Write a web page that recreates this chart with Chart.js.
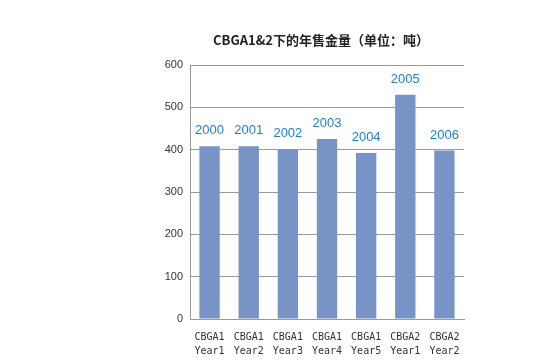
<!DOCTYPE html>
<html>
<head>
<meta charset="utf-8">
<script src="https://cdn.jsdelivr.net/npm/chart.js@4"></script>
<style>
  html, body { margin: 0; padding: 0; background: #fff; }
  #wrap { width: 539px; height: 360px; }
</style>
</head>
<body>
<div id="wrap"><canvas id="chart" width="539" height="360"></canvas></div>
<script>
// 数据
const categories = [['CBGA1', 'Year1'], ['CBGA1', 'Year2'], ['CBGA1', 'Year3'], ['CBGA1', 'Year4'], ['CBGA1', 'Year5'], ['CBGA2', 'Year1'], ['CBGA2', 'Year2']];
const years = ['2000', '2001', '2002', '2003', '2004', '2005', '2006'];
const amounts = [408, 408, 401, 425, 392, 530, 398];
const titleText = 'CBGA1&2下的年售金量（单位：吨）';

// 标题
const titlePlugin = {
  id: 'titlePlugin',
  afterDraw(chart) {
    const c = chart.ctx;
    c.save();
    c.font = 'bold 13px "Noto Sans CJK SC", "DejaVu Serif", serif';
    c.fillStyle = '#222';
    c.textAlign = 'center';
    c.textBaseline = 'middle';
    c.fillText(titleText, 321, 40);
    c.restore();
  }
};

// 柱子上方的年份
const yearLabels = {
  id: 'yearLabels',
  afterDatasetsDraw(chart) {
    const c = chart.ctx;
    const meta = chart.getDatasetMeta(0);
    c.save();
    c.font = '13px "Liberation Sans", Arial, sans-serif';
    c.fillStyle = '#1f7fcf';
    c.textAlign = 'center';
    c.textBaseline = 'bottom';
    meta.data.forEach((bar, i) => {
      c.fillText(years[i], bar.x, bar.y - 9);
    });
    c.restore();
  }
};

const ctx = document.getElementById('chart').getContext('2d');
new Chart(ctx, {
  type: 'bar',
  data: {
    labels: categories,
    datasets: [{
      data: amounts,
      backgroundColor: '#7893c5',
      borderWidth: 0,
      categoryPercentage: 1,
      barPercentage: 0.52
    }]
  },
  options: {
    responsive: false,
    animation: false,
    layout: { padding: { left: 150, right: 75, top: 65, bottom: 0 } },
    plugins: {
      legend: { display: false },
      tooltip: { enabled: false }
    },
    scales: {
      x: {
        grid: { display: false },
        border: { color: '#999', width: 1 },
        ticks: {
          color: '#333',
          font: { family: '"DejaVu Sans Mono", monospace', size: 10, lineHeight: 1.45 },
          padding: 3,
          autoSkip: false,
          maxRotation: 0
        },
        afterFit(scale) { scale.height = 41; }
      },
      y: {
        min: 0,
        max: 600,
        ticks: {
          stepSize: 100,
          color: '#333',
          font: { family: '"Liberation Sans", Arial, sans-serif', size: 11 },
          padding: 7
        },
        grid: { color: '#9a9a9a', drawTicks: false },
        border: { color: '#999', width: 1 },
        afterFit(scale) { scale.width = 40; }
      }
    }
  },
  plugins: [titlePlugin, yearLabels]
});
</script>
</body>
</html>
